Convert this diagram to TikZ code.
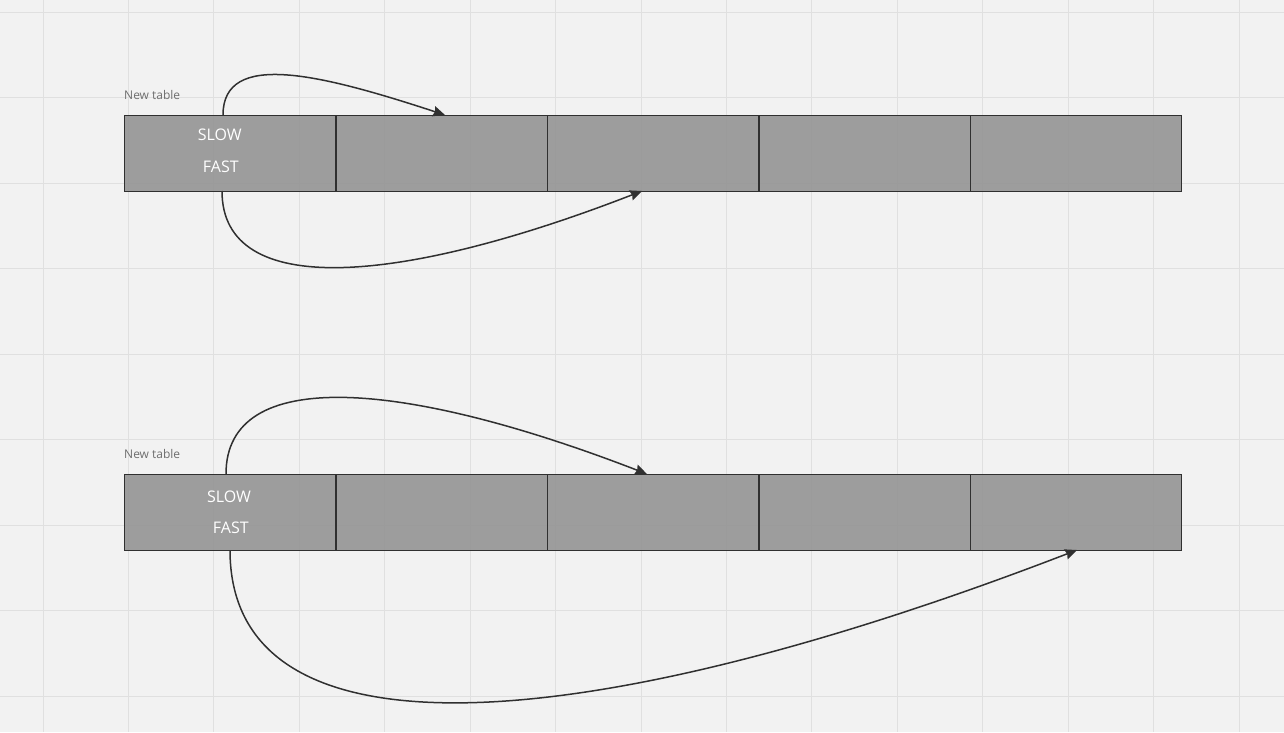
\documentclass[tikz,border=0pt]{standalone}
\usepackage{fontspec}
\setmainfont{Open Sans}
\usetikzlibrary{arrows.meta}
\definecolor{bg}{HTML}{F2F2F2}
\definecolor{gridc}{HTML}{E0E0E0}
\definecolor{cellfill}{HTML}{969696}
\definecolor{edge}{HTML}{303030}
\definecolor{labelc}{HTML}{6E6E6E}
\tikzset{
  cell/.style={draw=edge, line width=1.4pt, fill=cellfill, fill opacity=0.92, text opacity=1,
    minimum width=211.4pt, minimum height=76pt, inner sep=0pt, anchor=north west},
  celltext/.style={text=white, font=\fontsize{16}{18}\selectfont, anchor=base, inner sep=0pt},
  tablelabel/.style={text=labelc, font=\fontsize{12}{14}\selectfont, anchor=base west, inner sep=0pt},
  link/.style={draw=edge, line width=1.5pt, -{Stealth[length=12pt,width=10.5pt,inset=1.5pt]}},
  gridline/.style={draw=gridc, line width=1pt}
}
\begin{document}
\begin{tikzpicture}[x=1pt,y=-1pt]
\fill[bg] (0,0) rectangle (1284,732);
\useasboundingbox (0,0) rectangle (1284,732);
% grid
\foreach \i in {0,...,14} {\draw[gridline] ({43+85.43*\i},0) -- ({43+85.43*\i},732);}
\foreach \j in {0,...,8} {\draw[gridline] (0,{12+85.5*\j}) -- (1284,{12+85.5*\j});}

% table 1
\node[tablelabel] (lab1) at (124,99) {New table};
\foreach \k in {1,...,5} {\node[cell] (ta\k) at ({124+211.4*(\k-1)},115) {};}
\node[celltext] (slow1) at (219.7,140.7) {SLOW};
\node[celltext] (fast1) at (220.8,172) {FAST};

% table 2
\node[tablelabel] (lab2) at (124,458.5) {New table};
\foreach \k in {1,...,5} {\node[cell] (tb\k) at ({124+211.4*(\k-1)},474) {};}
\node[celltext] (slow2) at (229,502.7) {SLOW};
\node[celltext] (fast2) at (230.8,533.5) {FAST};

% anchor points on the cell edges
\coordinate (a1s) at (223,115);
\coordinate (a1e) at (445,115);
\coordinate (b1s) at (222,191);
\coordinate (b1e) at (642,191);
\coordinate (a2s) at (226,474);
\coordinate (a2e) at (647,474);
\coordinate (b2s) at (230,550);
\coordinate (b2e) at (1077,550);

% connectors
\draw[link] (a1s) .. controls (223,50) and (320,74) .. (a1e);
\draw[link] (b1s) .. controls (222,300) and (400,285) .. (b1e);
\draw[link] (a2s) .. controls (226,365) and (404,380) .. (a2e);
\draw[link] (b2s) .. controls (230,768) and (589,738) .. (b2e);
\end{tikzpicture}
\end{document}
